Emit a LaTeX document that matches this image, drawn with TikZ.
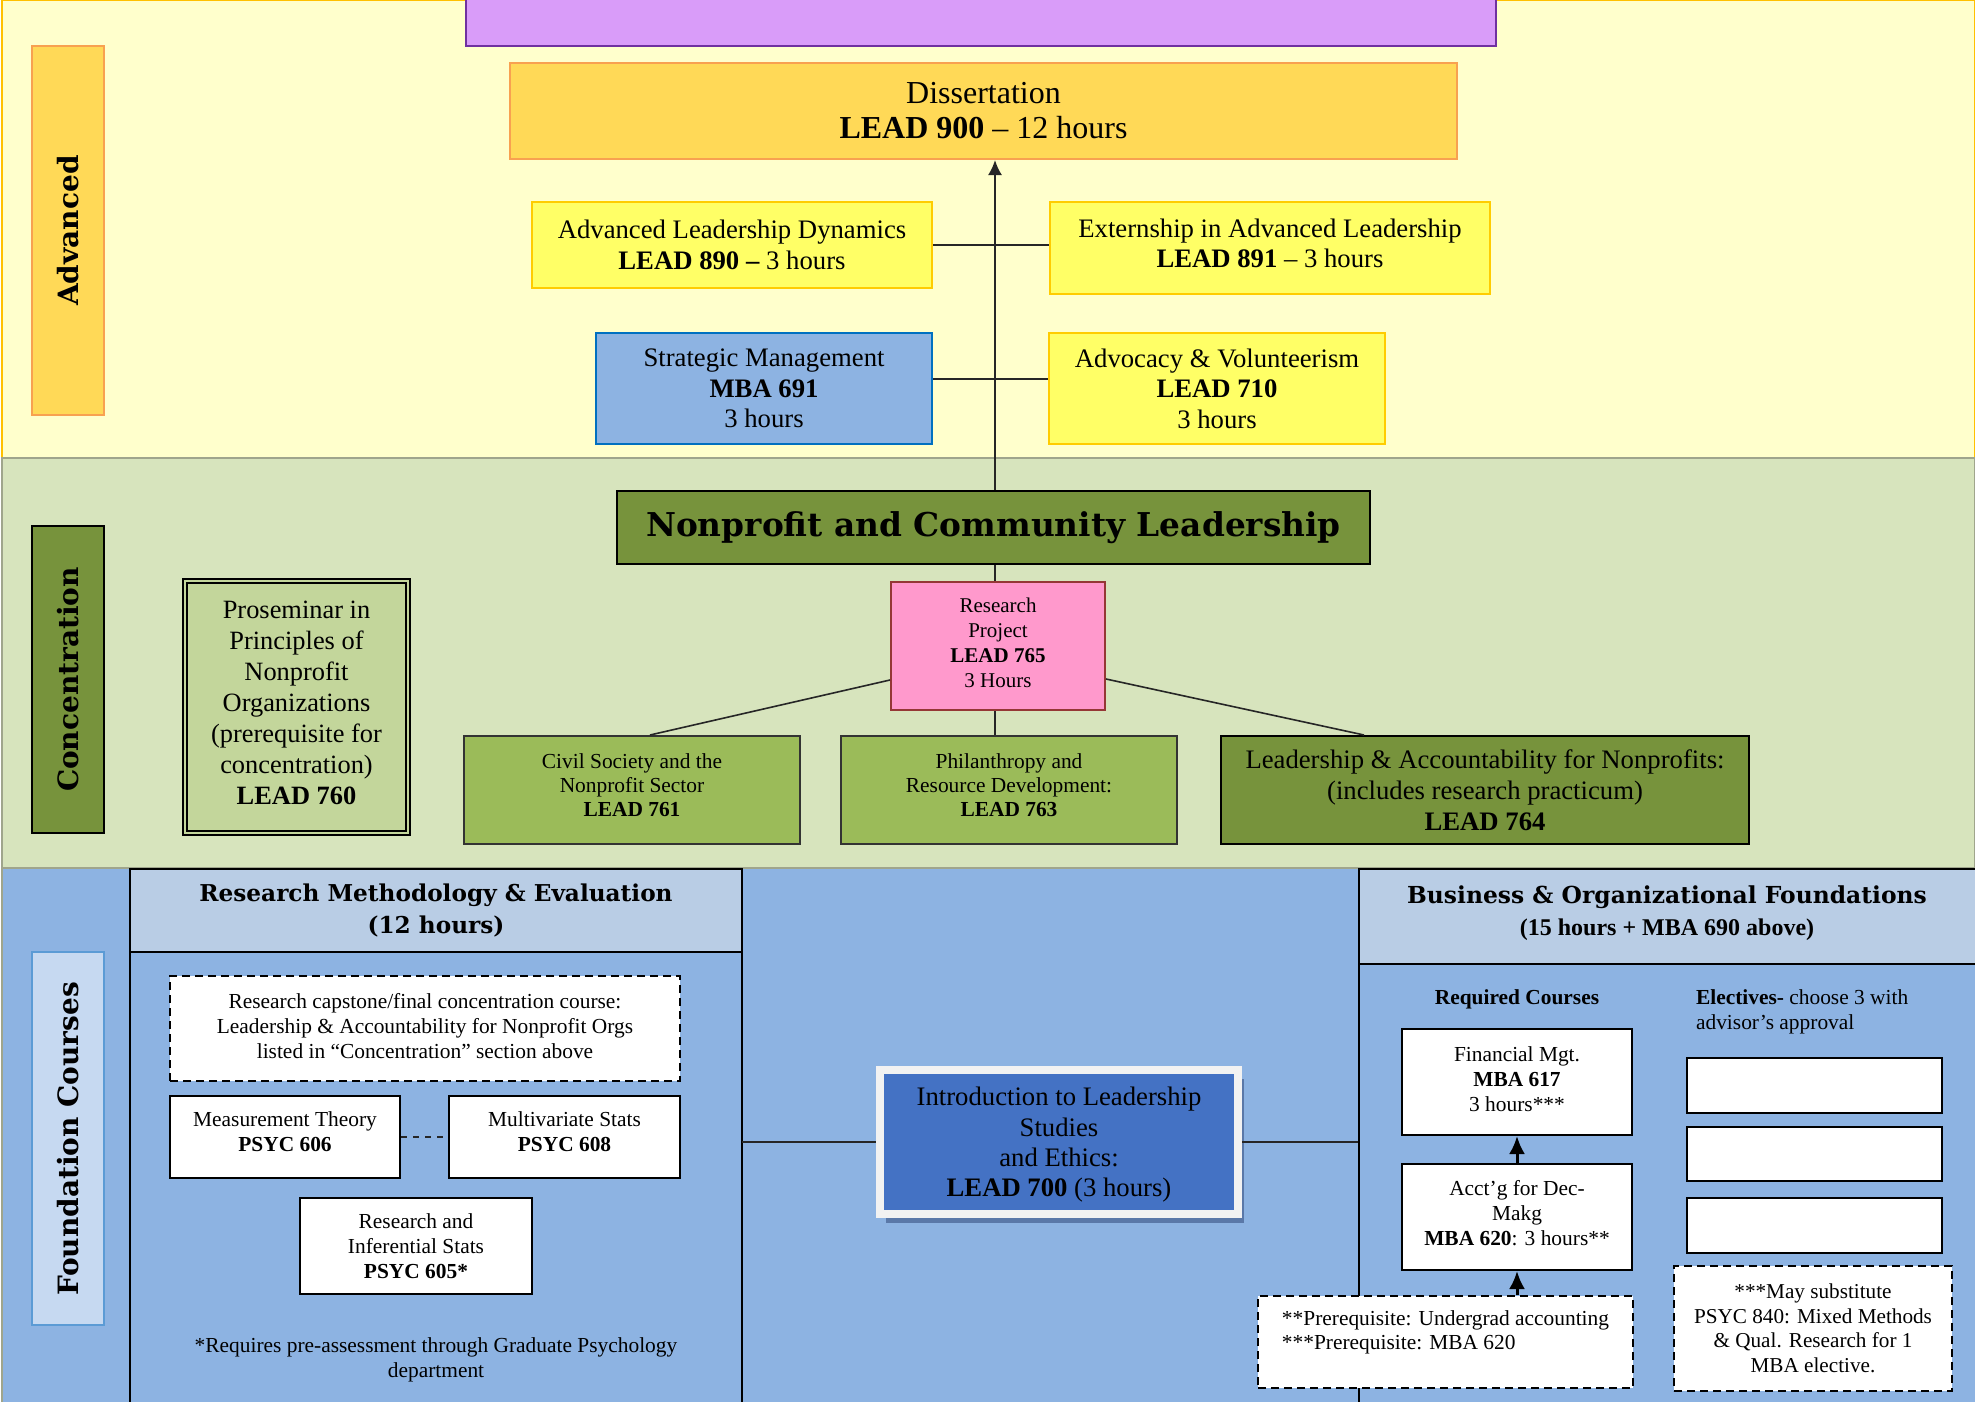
\documentclass[tikz,border=0pt]{standalone}
\usepackage{fontspec}
\setmainfont{Liberation Serif}
\newfontfamily\slabfont{DejaVu Serif}
\usetikzlibrary{arrows.meta,shadows}
\definecolor{advbg}{HTML}{FFFFCC}
\definecolor{advln}{HTML}{FFC000}
\definecolor{conbg}{HTML}{D7E4BD}
\definecolor{conln}{HTML}{9FA58C}
\definecolor{fndbg}{HTML}{8DB3E2}
\definecolor{ttlbg}{HTML}{D99CF9}
\definecolor{ttlln}{HTML}{7030A0}
\definecolor{gld}{HTML}{FFD957}
\definecolor{orng}{HTML}{F8A150}
\definecolor{ylw}{HTML}{FFFF66}
\definecolor{ylwln}{HTML}{FFCC00}
\definecolor{sky}{HTML}{8DB3E2}
\definecolor{mblue}{HTML}{0070C0}
\definecolor{olv}{HTML}{77933C}
\definecolor{grn}{HTML}{9BBB59}
\definecolor{pgrn}{HTML}{C3D69B}
\definecolor{pnk}{HTML}{FF99CC}
\definecolor{pnkln}{HTML}{953735}
\definecolor{hdb}{HTML}{B9CDE5}
\definecolor{lblu}{HTML}{C6D9F1}
\definecolor{lbluln}{HTML}{5B9BD5}
\definecolor{dblu}{HTML}{4472C4}
\definecolor{offw}{HTML}{F2F2F2}
\definecolor{shd}{HTML}{5A78A8}
\tikzset{
  box/.style={draw, line width=1pt, align=center, inner sep=2pt},
  bigtxt/.style={font=\fontsize{13.35}{15.2}\selectfont},
  smalltxt/.style={font=\fontsize{10.7}{12.5}\selectfont},
  ybox/.style={box, fill=ylw, draw=ylwln, bigtxt},
  wbox/.style={box, fill=white, draw=black, smalltxt},
  dbox/.style={wbox, dash pattern=on 4pt off 2.5pt},
  lbl/.style={rotate=90, line width=1pt, inner sep=0pt, minimum height=36pt,
    font=\slabfont\bfseries\fontsize{14}{16}\selectfont},
  link/.style={line width=1pt, black!85}
}
\begin{document}
\begin{tikzpicture}[x=0.5pt, y=-0.5pt]
  \useasboundingbox (0,0) rectangle (1975,1402);

  % Bands
  \draw[fill=advbg, draw=advln, line width=1pt] (2,0) rectangle (1975,458);
  \draw[fill=conbg, draw=conln, line width=0.75pt] (2,458) rectangle (1975,868);
  \draw[fill=fndbg, draw=conln, line width=0.75pt] (2,868) rectangle (1985,1410);

  % Title box, cut at the top edge
  \node[draw=ttlln, fill=ttlbg, line width=1pt, minimum width=515pt, minimum height=40pt] (title) at (981,6) {};

  % Advanced
  \node[lbl, fill=gld, draw=orng, minimum width=184.5pt] (advlbl) at (68,230.5) {Advanced};
  \node[box, fill=gld, draw=orng, minimum width=473.5pt, minimum height=48pt,
    font=\fontsize{16}{17.5}\selectfont] (diss) at (983.5,111) {Dissertation\\\textbf{LEAD 900} – 12 hours};
  \node[ybox, minimum width=200pt, minimum height=43pt] (ald) at (732,245) {Advanced Leadership Dynamics\\\textbf{LEAD 890 –} 3 hours};
  \node[ybox, text depth=5pt, minimum width=220pt, minimum height=46pt] (ext) at (1270,248) {Externship in Advanced Leadership\\\textbf{LEAD 891} – 3 hours};
  \node[box, fill=sky, draw=mblue, bigtxt, minimum width=168pt, minimum height=55.5pt] (smg) at (764,388.5) {Strategic Management\\\textbf{MBA 691}\\3 hours};
  \node[ybox, minimum width=168pt, minimum height=55.5pt] (advo) at (1217,388.5) {Advocacy \& Volunteerism\\\textbf{LEAD 710}\\3 hours};

  % Concentration
  \node[lbl, fill=olv, draw=black, minimum width=153.5pt] (conlbl) at (68,679.5) {Concentration};
  \node[box, fill=pgrn, draw=black, double=pgrn, double distance=1.2pt, text depth=4pt, minimum width=111.3pt, minimum height=125.8pt,
    font=\fontsize{13.2}{15.5}\selectfont] (prosem) at (296.5,707) {Proseminar in\\Principles of\\Nonprofit\\Organizations\\(prerequisite for\\concentration)\\\textbf{LEAD 760}};
  \node[box, fill=olv, draw=black, minimum width=376.5pt, minimum height=36.5pt,
    font=\slabfont\bfseries\fontsize{16.4}{18}\selectfont] (ncl) at (993.5,527.5) {Nonprofit and Community Leadership};
  \node[box, fill=pnk, draw=pnkln, text depth=3pt, minimum width=107pt, minimum height=64pt,
    font=\fontsize{10.5}{12.5}\selectfont] (res) at (998,646) {Research\\Project\\\textbf{LEAD 765}\\3 Hours};
  \node[box, fill=grn, draw=black!80, text depth=5pt, minimum width=168pt, minimum height=54pt,
    font=\fontsize{10.7}{12}\selectfont] (civ) at (632,790) {Civil Society and the\\Nonprofit Sector\\\textbf{LEAD 761}};
  \node[box, fill=grn, draw=black!80, text depth=5pt, minimum width=168pt, minimum height=54pt,
    font=\fontsize{10.7}{12}\selectfont] (phi) at (1009,790) {Philanthropy and\\Resource Development:\\\textbf{LEAD 763}};
  \node[box, fill=olv, draw=black, text depth=-4pt, minimum width=264pt, minimum height=54pt,
    font=\fontsize{13.35}{15.5}\selectfont] (la) at (1485,790) {Leadership \& Accountability for Nonprofits:\\(includes research practicum)\\\textbf{LEAD 764}};

  % Spine and links
  \coordinate (spine) at (995,0);
  \draw[link, -{Latex[length=7.5pt,width=7pt]}] (ncl.north -| spine) -- (diss.south -| spine);
  \draw[link] (ald.east) -- (ald.east -| ext.west);
  \draw[link] ([yshift=5pt]smg.east) -- ([yshift=5pt]advo.west);
  \draw[link] (ncl.south -| spine) -- (res.north -| spine);
  \draw[link, line width=0.8pt] ([yshift=15.5pt]res.south west) -- ([xshift=9pt]civ.north);
  \draw[link, line width=0.8pt] ([yshift=16pt]res.south east) -- ([xshift=-60.5pt]la.north);
  \draw[link, line width=0.6pt] (res.south -| spine) -- (phi.north -| spine);

  % Foundation courses
  \node[lbl, fill=lblu, draw=lbluln, minimum width=186.5pt] (fndlbl) at (68,1138.5) {Foundation Courses};

  % Research methodology panel
  \draw[line width=1pt] (130,1410) -- (130,869) -- (742,869) -- (742,1410);
  \node[box, fill=hdb, draw=black, minimum width=306pt, minimum height=41.5pt,
    font=\slabfont\bfseries\fontsize{11.6}{16}\selectfont] (rme) at (436,910.5) {Research Methodology \& Evaluation\\(12 hours)};
  \node[dbox, text depth=3pt, minimum width=255pt, minimum height=52.5pt] (cap) at (425,1028.5) {Research capstone/final concentration course:\\Leadership \& Accountability for Nonprofit Orgs\\listed in “Concentration” section above};
  \node[wbox, text depth=5pt, minimum width=115pt, minimum height=41pt] (mt) at (285,1137) {Measurement Theory\\\textbf{PSYC 606}};
  \node[wbox, text depth=5pt, minimum width=115.5pt, minimum height=41pt] (mv) at (564.5,1137) {Multivariate Stats\\\textbf{PSYC 608}};
  \node[wbox, minimum width=116pt, minimum height=48pt] (ris) at (416,1246) {Research and\\Inferential Stats\\\textbf{PSYC 605*}};
  \node[smalltxt, align=center] (rnote) at (436,1360) {*Requires pre-assessment through Graduate Psychology\\department};
  \draw[link, dashed] (mt.east) -- (mv.west);

  % Introduction course
  \node[box, fill=dblu, draw=offw, line width=4pt, bigtxt, text depth=-2pt, minimum width=179pt, minimum height=72pt,
    drop shadow={shadow xshift=3pt, shadow yshift=-4.5pt, fill=shd, opacity=1}] (l700) at (1059,1142)
    {Introduction to Leadership\\Studies\\and Ethics:\\\textbf{LEAD 700} (3 hours)};
  \coordinate (rmeR) at (742,1142);
  \coordinate (bofL) at (1359,1142);
  \draw[link] (rmeR) -- (l700.west);
  \draw[link] (l700.east) -- (bofL);

  % Business panel
  \draw[line width=1pt] (1359,1410) -- (1359,869) -- (1985,869);
  \node[draw=black, fill=hdb, line width=1pt, minimum width=313pt, minimum height=47.5pt] (bof) at (1672,916.5) {};
  \node[align=center, font=\bfseries\fontsize{11.7}{16}\selectfont] (boft) at (1667,913)
    {{\slabfont Business \& Organizational Foundations}\\{\fontsize{12}{16}\selectfont (15 hours + MBA 690 above)}};
  \node[font=\bfseries\fontsize{10.7}{12}\selectfont] (reqc) at (1517,999) {Required Courses};
  \node[smalltxt, anchor=west, align=left] (elec) at (1689,1012) {\textbf{Electives-} choose 3 with\\advisor’s approval};
  \node[wbox, text depth=3pt, minimum width=115pt, minimum height=53pt] (fin) at (1517,1082) {Financial Mgt.\\\textbf{MBA 617}\\3 hours***};
  \node[wbox, text depth=4pt, minimum width=115pt, minimum height=53pt] (acct) at (1517,1217) {Acct’g for Dec-\\Makg\\\textbf{MBA 620}: 3 hours**};
  \node[dbox, align=left, font=\fontsize{10.7}{12}\selectfont, minimum width=187.5pt, minimum height=46pt] (pre) at (1445.5,1342)
    {**Prerequisite: Undergrad accounting\\***Prerequisite: MBA 620\\\mbox{}};
  \node[wbox, minimum width=127.5pt, minimum height=27.5pt] (el1) at (1814.5,1085.5) {};
  \node[wbox, minimum width=127.5pt, minimum height=27pt] (el2) at (1814.5,1154) {};
  \node[wbox, minimum width=127.5pt, minimum height=27.5pt] (el3) at (1814.5,1225.5) {};
  \node[dbox, font=\fontsize{10.6}{12.25}\selectfont, minimum width=139pt, minimum height=62.5pt] (sub) at (1813,1328.5)
    {***May substitute\\PSYC 840: Mixed Methods\\\& Qual. Research for 1\\MBA elective.};
  \draw[line width=1.5pt, -{Latex[length=9pt,width=8pt]}] (acct.north) -- (fin.south);
  \draw[line width=1.5pt, -{Latex[length=9pt,width=8pt]}] (pre.north -| acct.south) -- (acct.south);

\end{tikzpicture}
\end{document}
